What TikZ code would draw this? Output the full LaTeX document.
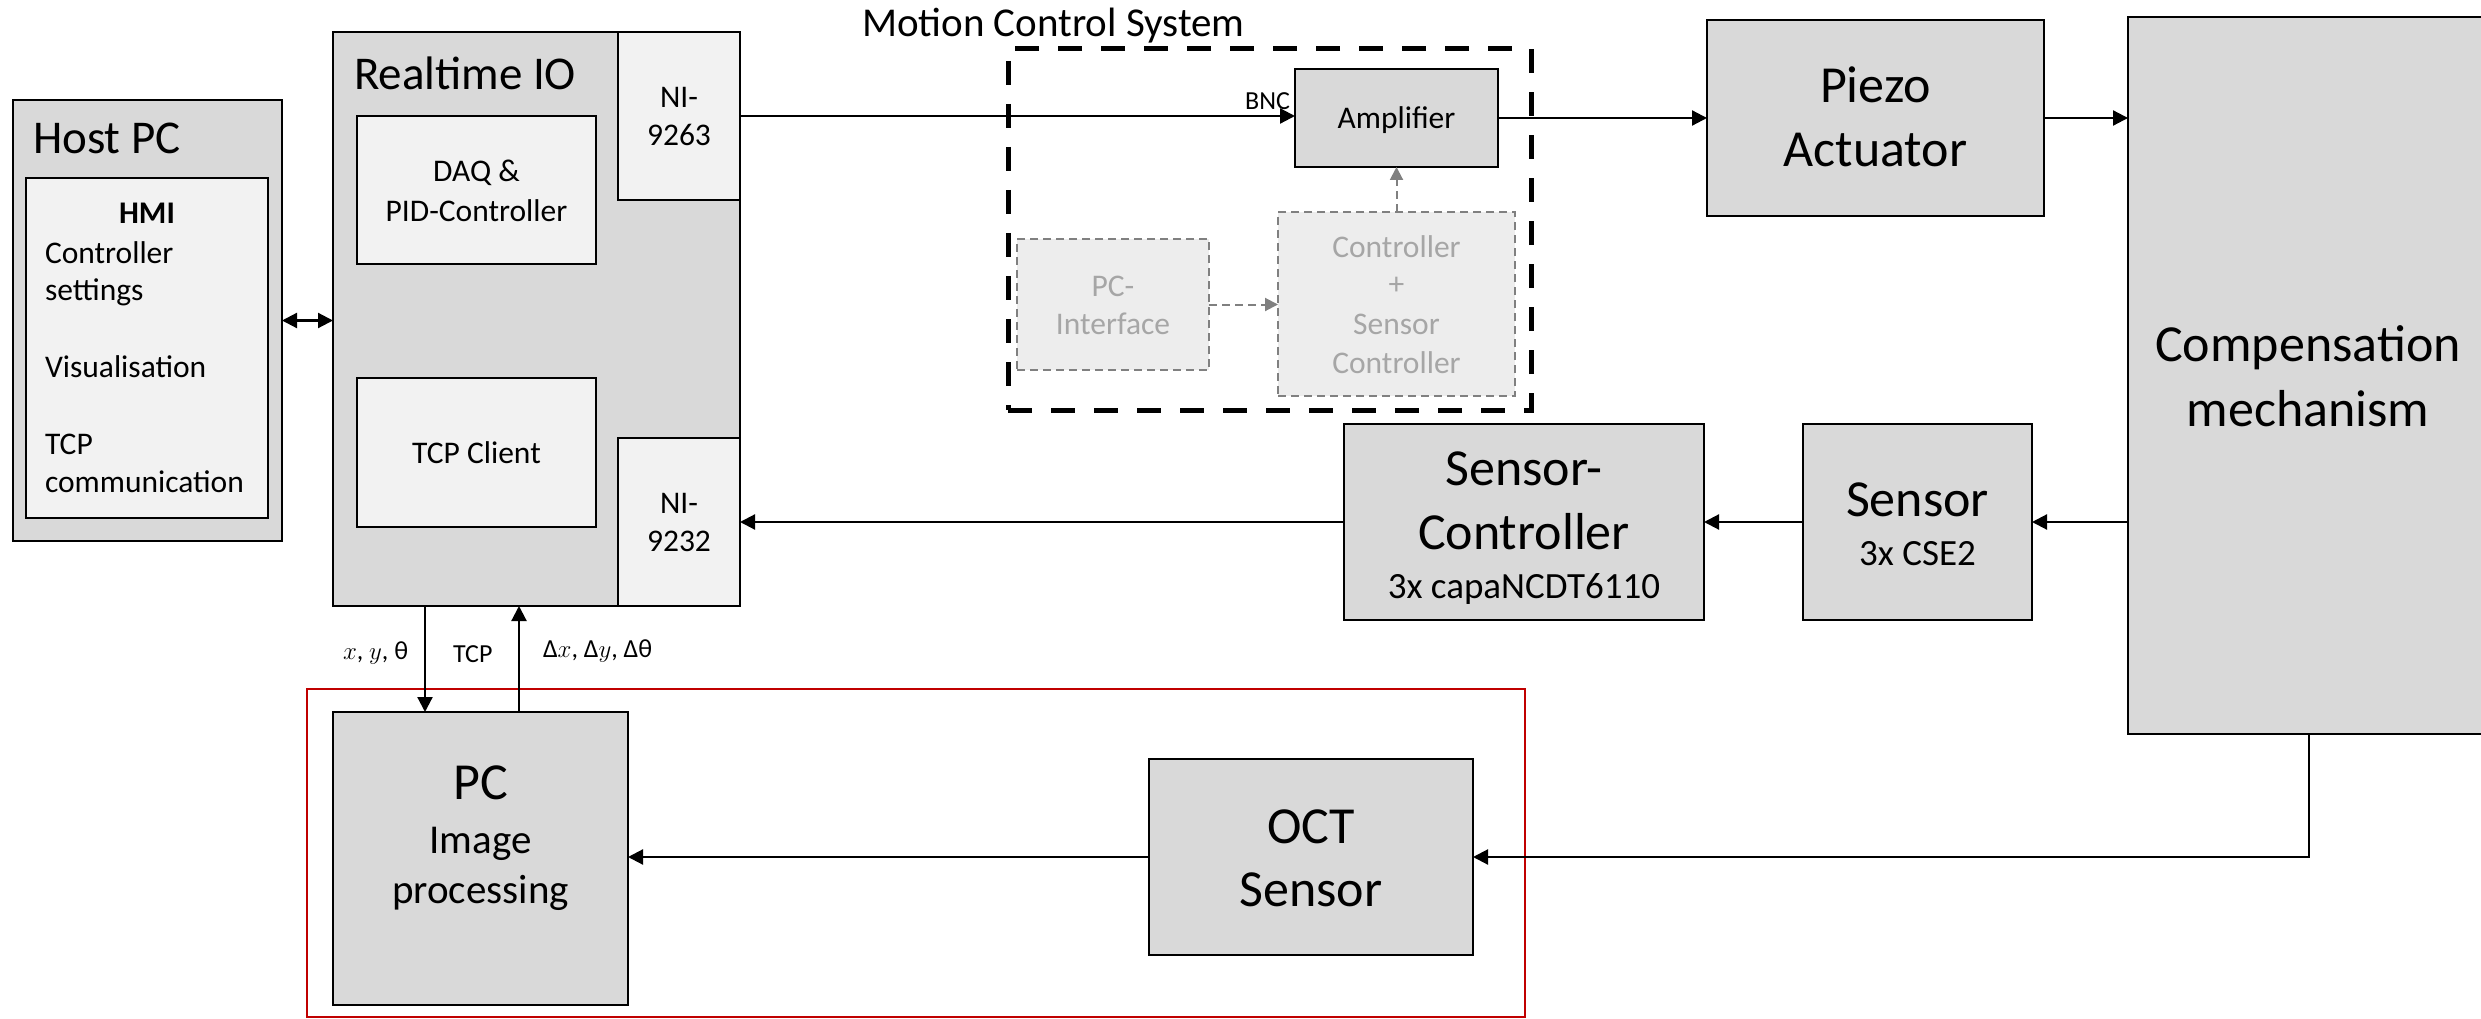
\documentclass[tikz,border=0pt]{standalone}
\usepackage{fontspec}
\setmainfont{Carlito}
\usetikzlibrary{arrows.meta}
\definecolor{boxgray}{HTML}{D9D9D9}
\definecolor{innergray}{HTML}{F2F2F2}
\definecolor{ghostfill}{HTML}{EDEDED}
\definecolor{ghostline}{HTML}{808080}
\definecolor{ghosttext}{HTML}{A6A6A6}
\definecolor{framered}{HTML}{C00000}
\newcommand\fsBig{\fontsize{52}{62}\selectfont}
\newcommand\fsTitle{\fontsize{47}{56}\selectfont}
\newcommand\fsMid{\fontsize{41}{50}\selectfont}
\newcommand\fsSub{\fontsize{37}{44}\selectfont}
\newcommand\fsText{\fontsize{31.5}{38}\selectfont}
\newcommand\fsSmall{\fontsize{26}{31}\selectfont}
\tikzset{
  block/.style={rectangle, draw=black, line width=2.6pt, fill=boxgray,
    inner sep=0pt, outer sep=0pt, anchor=north west},
  inner block/.style={block, fill=innergray},
  ghost/.style={rectangle, draw=ghostline, line width=2pt, dash pattern=on 8pt off 5pt,
    fill=ghostfill, inner sep=0pt, outer sep=0pt, anchor=north west},
  group frame/.style={rectangle, draw=black, line width=5pt, dash pattern=on 24pt off 19pt,
    inner sep=0pt, outer sep=0pt, anchor=north west},
  red frame/.style={rectangle, draw=framered, line width=2pt,
    inner sep=0pt, outer sep=0pt, anchor=north west},
  txt/.style={inner sep=0pt, outer sep=0pt, anchor=base},
  ltxt/.style={inner sep=0pt, outer sep=0pt, anchor=base west},
  ghosttxt/.style={txt, text=ghosttext, font=\fsText},
  arr/.style={line width=2.2pt, -{Triangle[length=15pt,width=15pt]}},
  dblarr/.style={line width=2.2pt, {Triangle[length=15pt,width=15pt]}-{Triangle[length=15pt,width=15pt]}},
  ghostarr/.style={line width=2pt, draw=ghostline, dash pattern=on 8pt off 5pt,
    -{Triangle[length=13pt,width=13pt,fill=ghostline]}},
}
\begin{document}
\begin{tikzpicture}[x=1pt,y=-1pt]
\useasboundingbox (0,0) rectangle (2481,1019);

% ---------------- Host PC ----------------
\node[block, minimum width=269pt, minimum height=441pt] (hostpc) at (13,100) {};
\node[ltxt, font=\fsTitle] (hostpc-t) at (33,154) {Host PC};
\node[inner block, minimum width=242pt, minimum height=340pt] (hmi) at (26,178) {};
\node[txt, font=\fsText\bfseries] (hmi-t) at (147,223) {HMI};
\node[ltxt, font=\fsText] (hmi-l1) at (45,263) {Controller};
\node[ltxt, font=\fsText] (hmi-l2) at (45,300.5) {settings};
\node[ltxt, font=\fsText] (hmi-l3) at (45,377.6) {Visualisation};
\node[ltxt, font=\fsText] (hmi-l4) at (45,454.7) {TCP};
\node[ltxt, font=\fsText] (hmi-l5) at (45,492) {communication};

% ---------------- Realtime IO ----------------
\node[block, minimum width=407pt, minimum height=574pt] (rtio) at (333,32) {};
\node[ltxt, font=\fsTitle] (rtio-t) at (354,90) {Realtime IO};
\node[inner block, minimum width=122pt, minimum height=168pt] (ni9263) at (618,32) {};
\node[txt, font=\fsText] (ni9263-a) at (679,107.5) {NI-};
\node[txt, font=\fsText] (ni9263-b) at (679,146) {9263};
\node[inner block, minimum width=122pt, minimum height=168pt] (ni9232) at (618,438) {};
\node[txt, font=\fsText] (ni9232-a) at (679,513) {NI-};
\node[txt, font=\fsText] (ni9232-b) at (679,551.6) {9232};
\node[inner block, minimum width=239pt, minimum height=148pt] (daq) at (357,116) {};
\node[txt, font=\fsText] (daq-a) at (476.5,182) {DAQ \&};
\node[txt, font=\fsText] (daq-b) at (476.5,221.4) {PID-Controller};
\node[inner block, minimum width=239pt, minimum height=149pt] (tcpc) at (357,378) {};
\node[txt, font=\fsText] (tcpc-t) at (476.5,463.4) {TCP Client};

% ---------------- Motion control system ----------------
\node[group frame, minimum width=523pt, minimum height=361pt] (mcs) at (1008,49) {};
\node[ltxt, font=\fsMid] (mcs-t) at (862,37) {Motion Control System};
\node[block, minimum width=203pt, minimum height=98pt] (amp) at (1295,69) {};
\node[txt, font=\fsText] (amp-t) at (1396.5,129) {Amplifier};
\node[ghost, minimum width=192pt, minimum height=131pt] (pcif) at (1017,239) {};
\node[ghosttxt] (pcif-a) at (1113,296) {PC-};
\node[ghosttxt] (pcif-b) at (1113,334.5) {Interface};
\node[ghost, minimum width=237pt, minimum height=184pt] (ctrl) at (1278,212) {};
\node[ghosttxt] (ctrl-a) at (1396.5,257.6) {Controller};
\node[ghosttxt] (ctrl-b) at (1396.5,294) {+};
\node[ghosttxt] (ctrl-c) at (1396.5,334.5) {Sensor};
\node[ghosttxt] (ctrl-d) at (1396.5,373) {Controller};

% ---------------- Plant and sensors ----------------
\node[block, minimum width=337pt, minimum height=196pt] (piezo) at (1707,20) {};
\node[txt, font=\fsBig] (piezo-a) at (1875.5,103) {Piezo};
\node[txt, font=\fsBig] (piezo-b) at (1875.5,166.5) {Actuator};
\node[block, minimum width=362pt, minimum height=717pt] (comp) at (2128,17) {};
\node[txt, font=\fsBig] (comp-a) at (2308,361.7) {Compensation};
\node[txt, font=\fsBig] (comp-b) at (2308,426.7) {mechanism};
\node[block, minimum width=360pt, minimum height=196pt] (sctrl) at (1344,424) {};
\node[txt, font=\fsBig] (sctrl-a) at (1524,485) {Sensor-};
\node[txt, font=\fsBig] (sctrl-b) at (1524,549) {Controller};
\node[txt, font=\fsSub] (sctrl-c) at (1524,598) {3x capaNCDT6110};
\node[block, minimum width=229pt, minimum height=196pt] (sensor) at (1803,424) {};
\node[txt, font=\fsBig] (sensor-a) at (1917.5,516.5) {Sensor};
\node[txt, font=\fsSub] (sensor-b) at (1917.5,565.4) {3x CSE2};

% ---------------- Image based measurement ----------------
\node[red frame, minimum width=1218pt, minimum height=328pt] (imgsys) at (307,689) {};
\node[block, minimum width=295pt, minimum height=293pt] (pc) at (333,712) {};
\node[txt, font=\fsBig] (pc-a) at (480.5,799) {PC};
\node[txt, font=\fsMid] (pc-b) at (480.5,853.6) {Image};
\node[txt, font=\fsMid] (pc-c) at (480.5,903) {processing};
\node[block, minimum width=324pt, minimum height=196pt] (oct) at (1149,759) {};
\node[txt, font=\fsBig] (oct-a) at (1311,843.3) {OCT};
\node[txt, font=\fsBig] (oct-b) at (1311,906.7) {Sensor};

% ---------------- Connections ----------------
\draw[dblarr] (hostpc.east) -- (hostpc.east -| rtio.west);
\draw[arr] (ni9263.east) -- (ni9263.east -| amp.west);
\node[ltxt, font=\fsSmall, anchor=base east] (bnc) at (1290,110) {BNC};
\draw[arr] (amp.east) -- (amp.east -| piezo.west);
\draw[arr] (piezo.east) -- (piezo.east -| comp.west);
\draw[arr] (sensor.east -| comp.west) -- (sensor.east);
\draw[arr] (sensor.west) -- (sctrl.east);
\draw[arr] (sctrl.west) -- (sctrl.west -| ni9232.east);
\draw[arr] (comp.south) |- (oct.east);
\draw[arr] (oct.west) -- (oct.west -| pc.east);
\draw[ghostarr] (pcif.east) -- (pcif.east -| ctrl.west);
\draw[ghostarr] (ctrl.north) -- (amp.south);

\coordinate (down-x) at (425,0);
\coordinate (up-x) at (519,0);
\draw[arr] (rtio.south -| down-x) -- (pc.north -| down-x);
\draw[arr] (pc.north -| up-x) -- (rtio.south -| up-x);
\node[ltxt, font=\fsSmall] (lbl-pos) at (343,659) {$x$, $y$, θ};
\node[ltxt, font=\fsSmall] (lbl-tcp) at (453,662) {TCP};
\node[ltxt, font=\fsSmall] (lbl-err) at (543,657) {Δ$x$, Δ$y$, Δθ};
\end{tikzpicture}
\end{document}
